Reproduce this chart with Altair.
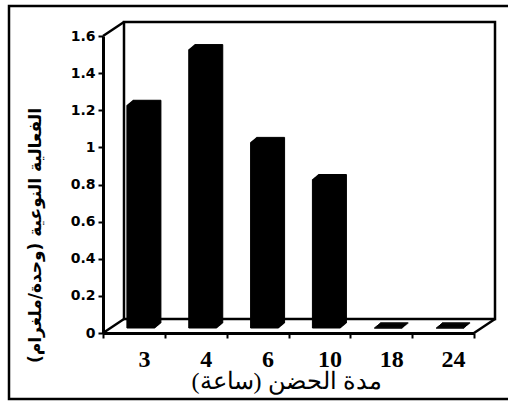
import altair as alt
import pandas as pd

# Incubation time (hours) and specific activity (unit/mg)
hours = ["3", "4", "6", "10", "18", "24"]
activity = [1.2, 1.5, 1.0, 0.8, 0.0, 0.0]
y_ticks = [0, 0.2, 0.4, 0.6, 0.8, 1, 1.2, 1.4, 1.6]

x_title = "مدة الحضن (ساعة)"
y_title = "الفعالية النوعية (وحدة/ملغرام)"

# plot area and the depth of the pseudo 3-D box
W, H = 371, 297
DX, DY = 21, 14
BAR_W = 28
STEPS = 6

df = pd.DataFrame({"hours": hours, "activity": activity})
one = pd.DataFrame({"k": [0]})

x_enc = alt.X(
    "hours:N",
    sort=hours,
    scale=alt.Scale(paddingInner=0, paddingOuter=0),
    axis=alt.Axis(
        title=x_title,
        labelAngle=0,
        labelFont="Liberation Serif",
        labelFontWeight="bold",
        labelFontSize=24,
        labelColor="black",
        labelOffset=10,
        labelPadding=9,
        tickBand="extent",
        tickSize=5,
        tickWidth=2,
        tickColor="black",
        domainColor="black",
        domainWidth=3,
        titleFont="Liberation Serif",
        titleFontSize=24,
        titleFontWeight="normal",
        titleColor="black",
        titleX=183,
        titleY=48,
        titleBaseline="middle",
        titleAlign="center",
    ),
)

y_enc = alt.Y(
    "activity:Q",
    scale=alt.Scale(domain=[0, 1.6], nice=False),
    axis=alt.Axis(
        title=y_title,
        values=y_ticks,
        format="~g",
        grid=False,
        labelFont="DejaVu Sans",
        labelFontWeight="bold",
        labelFontSize=14,
        labelColor="black",
        labelPadding=3,
        tickSize=5,
        tickWidth=2,
        tickColor="black",
        domainColor="black",
        domainWidth=3,
        titleFont="DejaVu Sans",
        titleFontSize=17,
        titleFontWeight="bold",
        titleColor="black",
        titleAngle=-90,
        titleX=-68,
        titleY=199,
        titleBaseline="middle",
        titleAlign="center",
    ),
)


def segment(x1, y1, x2, y2, width=2.5):
    return alt.Chart(one).mark_rule(color="black", strokeWidth=width).encode(
        x=alt.value(x1), x2=alt.value(x2), y=alt.value(y1), y2=alt.value(y2)
    )


# outer frame of the figure
frame = alt.Chart(one).mark_rect(
    fillOpacity=0, stroke="black", strokeWidth=2.5
).encode(x=alt.value(-94), x2=alt.value(430), y=alt.value(-30), y2=alt.value(363))

# back wall of the box (its lower edge is the back of the floor)
wall = alt.Chart(one).mark_rect(
    fillOpacity=0, stroke="black", strokeWidth=2.5
).encode(x=alt.value(DX), x2=alt.value(W + DX), y=alt.value(-DY), y2=alt.value(H - DY))

edges = [
    segment(0, 0, DX, -DY),
    segment(0, H, DX, H - DY),
    segment(W, H, W + DX, H - DY),
]

# each bar is swept in depth so that its top and side show as a bevel
bars = []
for k in range(STEPS + 1):
    ox = 7 + k
    oy = -5 - 5 * k / STEPS
    bars.append(
        alt.Chart(df).mark_bar(
            size=BAR_W,
            color="black",
            stroke="black",
            strokeWidth=1,
            xOffset=ox,
            x2Offset=ox,
            yOffset=oy,
            y2Offset=oy,
        ).encode(x=x_enc, y=y_enc)
    )

chart = alt.layer(frame, wall, *edges, *bars).properties(
    width=W,
    height=H,
    padding={"left": 103, "top": 36, "right": 34, "bottom": 70},
    autosize=alt.AutoSizeParams(type="none"),
).configure_view(strokeWidth=0)

chart.save("out.html", embed_options={"renderer": "svg", "actions": False})
